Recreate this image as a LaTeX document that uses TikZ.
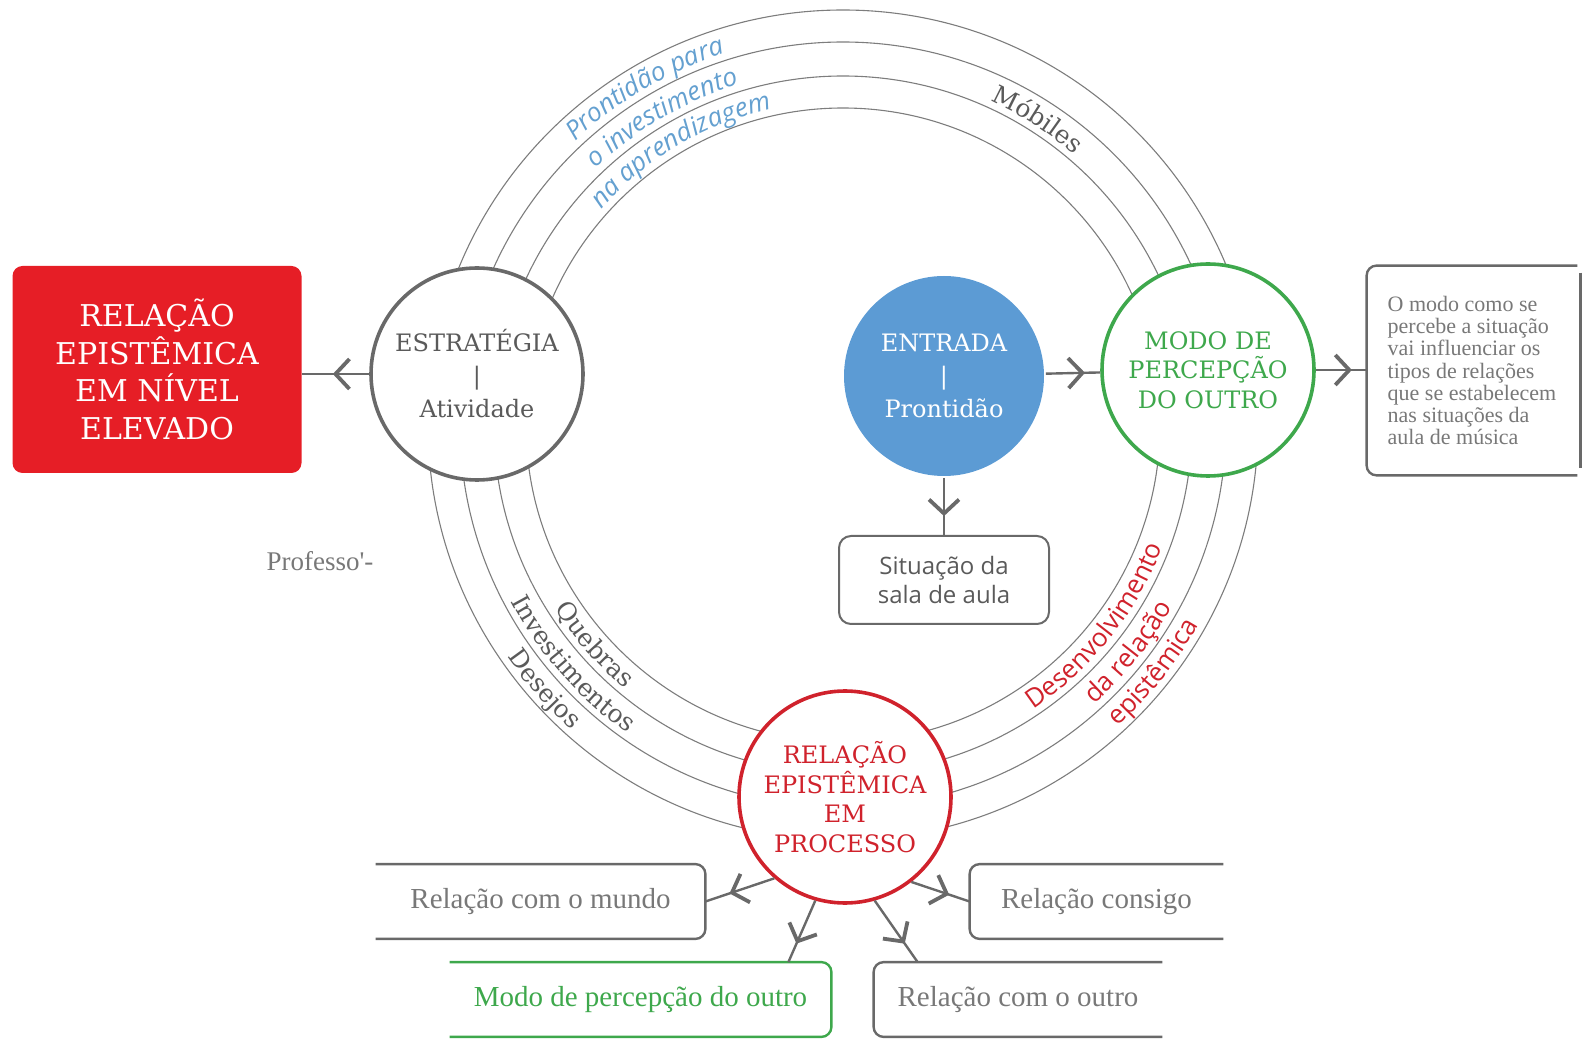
\documentclass[tikz,border=0pt]{standalone}
\usepackage{fontspec}
\setmainfont{Liberation Serif}
\newfontfamily\slab{DejaVu Serif}
\newfontfamily\sans{Open Sans}
\usetikzlibrary{arrows.meta,decorations.markings,decorations.text}

\definecolor{cgrey}{RGB}{105,105,105}
\definecolor{rgrey}{RGB}{125,125,125}
\definecolor{tgrey}{RGB}{90,90,90}
\definecolor{lgrey}{RGB}{120,120,120}
\definecolor{cred}{RGB}{230,30,38}
\definecolor{pred}{RGB}{208,34,44}
\definecolor{cgreen}{RGB}{62,168,76}
\definecolor{cblue}{RGB}{92,155,212}
\definecolor{lblue}{RGB}{100,160,208}

\newcommand\itlab{\sans\itshape\fontsize{13}{15}\selectfont}
\newcommand\slablab{\slab\fontsize{12.5}{14}\selectfont}
\newcommand\redlab{\sans\fontsize{13}{15}\selectfont}

\tikzset{
  chev/.tip={Straight Barb[length=7pt,width=15pt,line width=1.9pt]},
  midto/.style={postaction={decorate},decoration={markings,mark=at position #1 with {\arrow{chev}}}},
  midto/.default=0.7,
  link/.style={draw=cgrey,line width=1.2pt},
  ring/.style={draw=rgrey,line width=0.55pt},
  bubble/.style={circle,fill=white,line width=1.8pt,minimum size=106pt,inner sep=0pt,align=center,
    font=\slab\fontsize{12}{16.5}\selectfont},
  lbl/.style={minimum height=37pt,text=lgrey,font=\fontsize{14.5}{17}\selectfont},
  open/.style={draw=#1,line width=1.2pt,rounded corners=5pt},
  ringtxt/.style 2 args={decorate,decoration={text along path,text align=center,text color=#1,text={#2}}}
}

\begin{document}
\begin{tikzpicture}[x=0.5pt,y=0.5pt]
\useasboundingbox (0,0) rectangle (1585,-1042);

% rings
\coordinate (rc) at (843,-425);
\foreach \r in {317,349,383,415}
  \draw[ring] (rc) circle[radius=\r];

\path[ringtxt={lblue}{|\itlab|Prontidão para}] (rc) ++(150:390) arc[start angle=150,end angle=91,radius=390];
\path[ringtxt={lblue}{|\itlab|o investimento}] (rc) ++(150:356) arc[start angle=150,end angle=91,radius=356];
\path[ringtxt={lblue}{|\itlab|na aprendizagem}] (rc) ++(150:324) arc[start angle=150,end angle=91,radius=324];
\path[ringtxt={tgrey}{|\slablab|Móbiles}] (rc) ++(80:356) arc[start angle=80,end angle=35,radius=356];
\path[ringtxt={tgrey}{|\slablab|Quebras}] (rc) ++(195:342) arc[start angle=195,end angle=248,radius=342];
\path[ringtxt={tgrey}{|\slablab|Investimentos}] (rc) ++(195:376) arc[start angle=195,end angle=248,radius=376];
\path[ringtxt={tgrey}{|\slablab|Desejos}] (rc) ++(195:408) arc[start angle=195,end angle=248,radius=408];
\path[ringtxt={pred}{|\redlab|Desenvolvimento}] (rc) ++(-65:342) arc[start angle=-65,end angle=-12,radius=342];
\path[ringtxt={pred}{|\redlab|da relação}] (rc) ++(-65:376) arc[start angle=-65,end angle=-12,radius=376];
\path[ringtxt={pred}{|\redlab|epistêmica}] (rc) ++(-65:408) arc[start angle=-65,end angle=-12,radius=408];

% circles
\node[bubble,draw=cgrey,text=tgrey] (estr) at (477,-374) {ESTRATÉGIA\\|\\Atividade};
\node[bubble,fill=cblue,text=white,minimum size=100pt] (entrada) at (944,-376) {ENTRADA\\|\\Prontidão};
\node[bubble,draw=cgreen,text=cgreen,font=\slab\fontsize{12}{14.7}\selectfont] (modo) at (1208,-370) {MODO DE\\PERCEPÇÃO\\DO OUTRO};
\node[bubble,draw=pred,text=pred,font=\slab\fontsize{12}{14.8}\selectfont] (proc) at (845,-797) {RELAÇÃO\\EPISTÊMICA\\EM\\PROCESSO};

\node[fill=cred,rounded corners=5pt,minimum width=144.5pt,minimum height=103.5pt,text=white,align=center,
  font=\slab\fontsize{15}{18.7}\selectfont] (nivel) at (157,-369.5) {RELAÇÃO\\EPISTÊMICA\\EM NÍVEL\\ELEVADO};
\node[draw=cgrey,line width=1pt,rounded corners=6pt,minimum width=105pt,minimum height=44pt,align=center,
  text=tgrey,font=\sans\fontsize{12}{14.6}\selectfont] (sala) at (944,-580) {Situação da\\sala de aula};
\node[minimum width=105pt,minimum height=104.5pt,align=left,text=lgrey,
  font=\fontsize{11}{11.1}\selectfont] (obs) at (1472,-370.5)
  {O modo como se\\percebe a situação\\vai influenciar os\\tipos de relações\\que se estabelecem\\nas situações da\\aula de música};
\draw[open=cgrey] (obs.north east) -- (obs.north west) -- (obs.south west) -- (obs.south east);
\draw[cgrey,line width=1.2pt] ([xshift=1.5pt,yshift=-3.5pt]obs.north east) -- ([xshift=1.5pt,yshift=3.5pt]obs.south east);

\node[text=lgrey,font=\fontsize{13.5}{16}\selectfont] (prof) at (320,-561) {Professo\textquotesingle-};

% bottom boxes
\node[lbl,minimum width=164.5pt] (mundo) at (540.5,-901.5) {Relação com o mundo};
\node[lbl,minimum width=126.5pt] (consigo) at (1096.5,-901.5) {Relação consigo};
\node[lbl,minimum width=190.5pt,text=cgreen] (percep) at (640.5,-999.5) {Modo de percepção do outro};
\node[lbl,minimum width=144pt] (outro) at (1018,-999.5) {Relação com o outro};
\draw[open=cgrey] (mundo.north west) -- (mundo.north east) -- (mundo.south east) -- (mundo.south west);
\draw[open=cgrey] (consigo.north east) -- (consigo.north west) -- (consigo.south west) -- (consigo.south east);
\draw[open=cgreen] (percep.north west) -- (percep.north east) -- (percep.south east) -- (percep.south west);
\draw[open=cgrey] (outro.north east) -- (outro.north west) -- (outro.south west) -- (outro.south east);

% arrows
\draw[link,midto=0.54] (estr.west) -- (estr.west -| nivel.east);
\draw[link,midto=0.72] (entrada) -- (modo);
\draw[link,midto=0.71] (modo.east) -- (modo.east -| obs.west);
\draw[link,midto=0.67] (entrada.south) -- (sala.north);
\draw[link,midto=0.65] (proc.229) -- (mundo.east);
\draw[link,midto=0.65] (proc.308) -- (consigo.west);
\draw[link,midto=0.7] (proc.254) -- ([xshift=-21.5pt]percep.north east);
\draw[link,midto=0.7] (proc.286) -- ([xshift=22pt]outro.north west);
\end{tikzpicture}
\end{document}
